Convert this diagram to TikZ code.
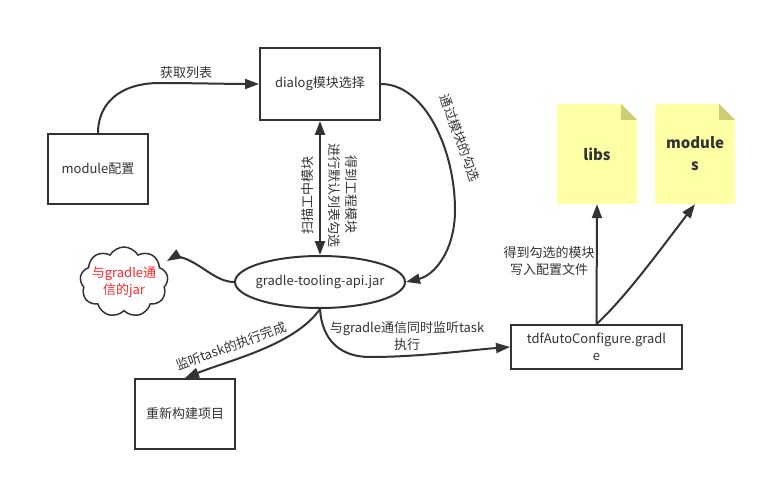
\documentclass[tikz,border=0pt]{standalone}
\usepackage{fontspec}
\setmainfont{Noto Sans CJK SC}
\usetikzlibrary{arrows.meta,shapes.geometric,shapes.symbols}
\definecolor{ink}{HTML}{333333}
\definecolor{notepaper}{HTML}{FFFFA6}
\definecolor{notefold}{HTML}{CDCD73}
\tikzset{
  boxnode/.style={shape=rectangle,draw=ink,line width=2pt,fill=white,align=center,inner sep=0pt},
  notenode/.style={shape=rectangle,fill=notepaper,minimum width=80pt,minimum height=100pt,inner sep=0pt,align=center,font=\fontsize{15}{22}\selectfont\bfseries,
    path picture={
      \fill[white] ([xshift=-16pt]path picture bounding box.north east) -- (path picture bounding box.north east) -- ([yshift=-16pt]path picture bounding box.north east) -- cycle;
      \fill[notefold] ([xshift=-16pt]path picture bounding box.north east) -- ([xshift=-16pt,yshift=-16pt]path picture bounding box.north east) -- ([yshift=-16pt]path picture bounding box.north east) -- cycle;
    }},
  link/.style={draw=ink,line width=2pt,-{Triangle[length=14pt,width=10pt]}},
  lbl/.style={text=ink,align=center,inner sep=0pt}
}
\begin{document}
\begin{tikzpicture}[x=1pt,y=-1pt,font=\fontsize{13}{17}\selectfont,text=ink]
    \useasboundingbox (0,0) rectangle (767,481);

    %%   boxes
    \node[boxnode,minimum width=120pt,minimum height=72pt] (Dialog) at (320,84)  {dialog模块选择};
    \node[boxnode,minimum width=100pt,minimum height=70pt] (Module) at (98,169)  {module配置};
    \node[boxnode,minimum width=100pt,minimum height=70pt] (Build)  at (185,414) {重新构建项目};
    \node[boxnode,minimum width=171pt,minimum height=44pt] (Tdf)    at (596.5,347) {tdfAutoConfigure.gradl\\e};
    \node[shape=ellipse,draw=ink,line width=2pt,fill=white,minimum width=170pt,minimum height=52pt,inner sep=0pt] (Api) at (320,282) {\makebox[0pt]{gradle-tooling-api.jar}};
    \node[shape=cloud,draw=ink,line width=1.5pt,cloud puffs=9,cloud puff arc=120,aspect=1.25,minimum width=88pt,minimum height=70pt,inner sep=0pt,align=center,text=red!85!white] (Cloud) at (124,282) {\makebox[0pt]{与gradle通}\\\makebox[0pt]{信的jar}};
    \node[notenode] (Libs)    at (597,154) {libs};
    \node[notenode] (Modules) at (695,154) {module\\s};
    \coordinate (CloudTip) at (167,261);

    %%   connectors
    \draw[link] (Module.north) .. controls (98,105) and (118,83) .. (160,83) .. controls (190,83) and (230,84) .. (Dialog.west);
    \draw[link] (Dialog.east) .. controls (425,84) and (455,150) .. (455,210) .. controls (455,250) and (435,275) .. (Api.east);
    \draw[link,{Triangle[length=14pt,width=10pt]}-{Triangle[length=14pt,width=10pt]}] (Dialog.south) -- (Api.north);
    \draw[link] (Api.west) .. controls (215,282) and (200,262) .. (180,257) .. controls (176,256) and (172,258) .. (CloudTip);
    \draw[link] (Api.south) .. controls (295,345) and (230,360) .. (Build.north);
    \draw[link] (Api.south) .. controls (322,340) and (340,357) .. (370,357) .. controls (420,357) and (470,350) .. (Tdf.west);
    \draw[link] (Tdf.north) -- (Libs.south);
    \draw[link] (Tdf.north) .. controls (625,298) and (660,250) .. (Modules.south);

    %%   labels
    \node[lbl] (ListLbl) at (186,73) {获取列表};
    \node[lbl,rotate=90] (ScanLbl) at (308,195) {扫描工中模块};
    \node[lbl,rotate=-90] (GetLbl) at (343,195) {得到工程模块\\进行默认列表勾选};
    \node[lbl,rotate=-70] (PickLbl) at (460,138) {通过模块的勾选};
    \node[lbl,rotate=20] (WatchLbl) at (231,346) {监听task的执行完成};
    \node[lbl] (CommLbl) at (407,336) {与gradle通信同时监听task\\执行};
    \node[lbl] (WriteLbl) at (549,261) {得到勾选的模块\\写入配置文件};
\end{tikzpicture}
\end{document}
